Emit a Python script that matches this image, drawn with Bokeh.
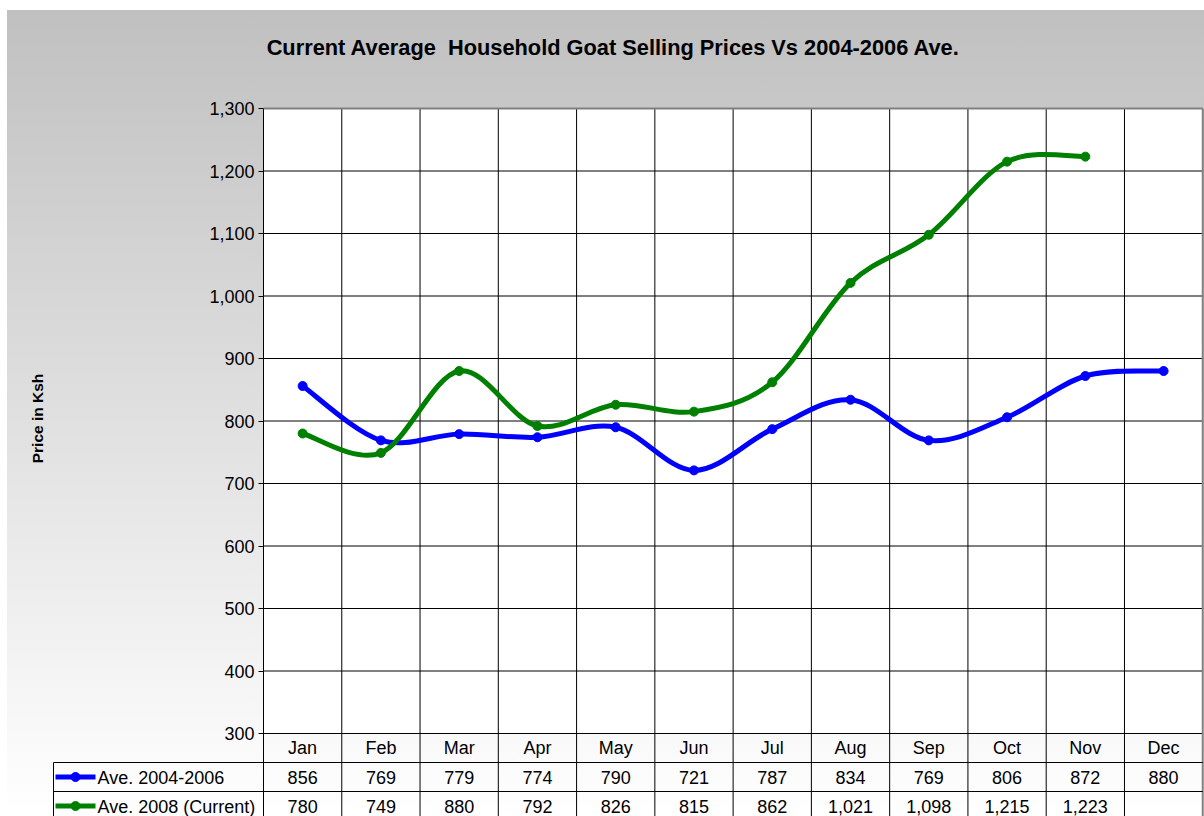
from bokeh.plotting import figure
from bokeh.models import Range1d, LinearAxis, FixedTicker, NumeralTickFormatter
from bokeh.core.properties import value
from bokeh.embed import file_html
from bokeh.resources import INLINE

# ---------------- data ----------------
months = ["Jan", "Feb", "Mar", "Apr", "May", "Jun", "Jul", "Aug", "Sep", "Oct", "Nov", "Dec"]
avg_2004_2006 = [856, 769, 779, 774, 790, 721, 787, 834, 769, 806, 872, 880]
avg_2008 = [780, 749, 880, 792, 826, 815, 862, 1021, 1098, 1215, 1223]  # Dec not yet available
y_ticks = [300, 400, 500, 600, 700, 800, 900, 1000, 1100, 1200, 1300]
series_names = ["Ave. 2004-2006", "Ave. 2008 (Current)"]
series_colors = ["#0000FF", "#008000"]
title_text = "Current Average  Household Goat Selling Prices Vs 2004-2006 Ave."
y_title = "Price in Ksh"

# ---------------- layout (pixels, page coordinates) ----------------
ORG_X, ORG_Y = 7, 10          # top-left of chart on the page
W, H = 1204 - ORG_X, 816 - ORG_Y
COL = 78.27                   # px per month column
PPU = 0.625                   # px per Ksh
PLOT_LEFT, PLOT_TOP = 263, 108
n = len(months)
ymin, ymax = y_ticks[0], y_ticks[-1]


def px(xp):
    return (xp - PLOT_LEFT) / COL


def py(yp):
    return ymax - (yp - PLOT_TOP) / PPU


x0, x1 = px(ORG_X), px(ORG_X + W)
y1, y0 = py(ORG_Y), py(ORG_Y + H)
row_h = 29 / PPU
hdr_bottom = ymin - row_h
row1_bottom = hdr_bottom - row_h
leg_left = px(53)

FONT = value("Liberation Sans")
FS = "18px"

p = figure(width=W, height=H, x_range=Range1d(x0, x1), y_range=Range1d(y0, y1),
           output_backend="svg", toolbar_location=None, min_border=0,
           x_axis_type=None, y_axis_type=None)
p.title.visible = False
p.outline_line_color = None
p.background_fill_color = None
p.border_fill_color = None
p.styles = {"background": "linear-gradient(to bottom, #c0c0c0 0%, #ffffff 100%)",
            "margin-left": f"{ORG_X}px", "margin-top": f"{ORG_Y}px"}

# plot area
p.quad(left=0, right=n, bottom=ymin, top=ymax, fill_color="white", line_color=None)

# horizontal grid
inner = y_ticks[1:-1]
p.segment(x0=[0] * len(inner), x1=[n] * len(inner), y0=inner, y1=inner, line_color="#000000", line_width=1)
p.segment(x0=[0], x1=[n], y0=[ymin], y1=[ymin], line_color="#000000", line_width=1.2)
# vertical lines through plot and table
vx = list(range(0, n))
p.segment(x0=vx, x1=vx, y0=[y0] * len(vx), y1=[ymax] * len(vx), line_color="#000000", line_width=1)
# right and top border (gray)
p.segment(x0=[n], x1=[n], y0=[y0], y1=[ymax], line_color="#808080", line_width=2)
p.segment(x0=[0], x1=[n], y0=[ymax], y1=[ymax], line_color="#808080", line_width=2)
# table rows
p.segment(x0=[leg_left, leg_left], x1=[n, n], y0=[hdr_bottom, row1_bottom], y1=[hdr_bottom, row1_bottom],
          line_color="#000000", line_width=1)
p.segment(x0=[leg_left], x1=[leg_left], y0=[y0], y1=[hdr_bottom], line_color="#000000", line_width=1)

# y axis
yaxis = LinearAxis(fixed_location=0, ticker=FixedTicker(ticks=y_ticks),
                   formatter=NumeralTickFormatter(format="0,0"), bounds=(ymin, ymax))
yaxis.axis_line_color = None
yaxis.major_tick_out = 5
yaxis.major_tick_in = 0
yaxis.major_tick_line_color = "#000000"
yaxis.minor_tick_line_color = None
yaxis.major_label_text_font = "Liberation Sans"
yaxis.major_label_text_font_size = FS
yaxis.major_label_text_color = "#000000"
yaxis.major_label_standoff = 4
p.add_layout(yaxis, "left")

# x axis (month header row)
xaxis = LinearAxis(fixed_location=ymin, ticker=FixedTicker(ticks=[i + 0.5 for i in range(n)]),
                   major_label_overrides={i + 0.5: m for i, m in enumerate(months)})
xaxis.axis_line_color = None
xaxis.major_tick_line_color = None
xaxis.major_tick_out = 0
xaxis.major_tick_in = 0
xaxis.minor_tick_line_color = None
xaxis.major_label_text_font = "Liberation Sans"
xaxis.major_label_text_font_size = FS
xaxis.major_label_text_color = "#000000"
xaxis.major_label_standoff = 4
p.add_layout(xaxis, "below")


def smooth(xs, ys):
    pts = list(zip(xs, ys))
    m = len(pts)
    out = {k: [] for k in ("x0", "y0", "x1", "y1", "cx0", "cy0", "cx1", "cy1")}
    for i in range(m - 1):
        p0 = pts[max(i - 1, 0)]
        p1 = pts[i]
        p2 = pts[i + 1]
        p3 = pts[min(i + 2, m - 1)]
        out["x0"].append(p1[0]); out["y0"].append(p1[1])
        out["x1"].append(p2[0]); out["y1"].append(p2[1])
        out["cx0"].append(p1[0] + (p2[0] - p0[0]) / 6); out["cy0"].append(p1[1] + (p2[1] - p0[1]) / 6)
        out["cx1"].append(p2[0] - (p3[0] - p1[0]) / 6); out["cy1"].append(p2[1] - (p3[1] - p1[1]) / 6)
    return out


row_centers = [ymin - 1.5 * row_h, ymin - 2.5 * row_h]
for vals, name, color, rc in zip([avg_2004_2006, avg_2008], series_names, series_colors, row_centers):
    xs = [i + 0.5 for i in range(len(vals))]
    b = smooth(xs, vals)
    p.bezier(x0=b["x0"], y0=b["y0"], x1=b["x1"], y1=b["y1"], cx0=b["cx0"], cy0=b["cy0"],
             cx1=b["cx1"], cy1=b["cy1"], line_color=color, line_width=5)
    p.scatter(xs, vals, size=9, fill_color=color, line_color=color, marker="circle")
    # table values
    p.text(x=xs, y=[rc] * len(vals), text=["{:,}".format(v) for v in vals],
           text_font=FONT, text_font_size=value(FS), text_color="#000000",
           text_align="center", text_baseline="middle")
    # legend key in table
    lx0, lx1 = px(55), px(95)
    p.segment(x0=[lx0], x1=[lx1], y0=[rc], y1=[rc], line_color=color, line_width=5)
    p.scatter([(lx0 + lx1) / 2], [rc], size=9, fill_color=color, line_color=color, marker="circle")
    p.text(x=[px(97)], y=[rc - 1.5], text=[name], text_font=FONT, text_font_size=value(FS),
           text_color="#000000", text_align="left", text_baseline="middle")

# title
p.text(x=[px(613)], y=[py(47)], text=[title_text.replace("  ", " \u00a0")], text_font=FONT,
       text_font_size=value("21.8px"), text_font_style="bold", text_color="#000000",
       text_align="center", text_baseline="middle")
# y title
p.text(x=[px(37)], y=[py(418)], text=[y_title], text_font=FONT,
       text_font_size=value("15.5px"), text_font_style="bold", text_color="#000000",
       text_align="center", text_baseline="middle", angle=1.5707963267948966)

open("out.html", "w").write(file_html(p, INLINE))
